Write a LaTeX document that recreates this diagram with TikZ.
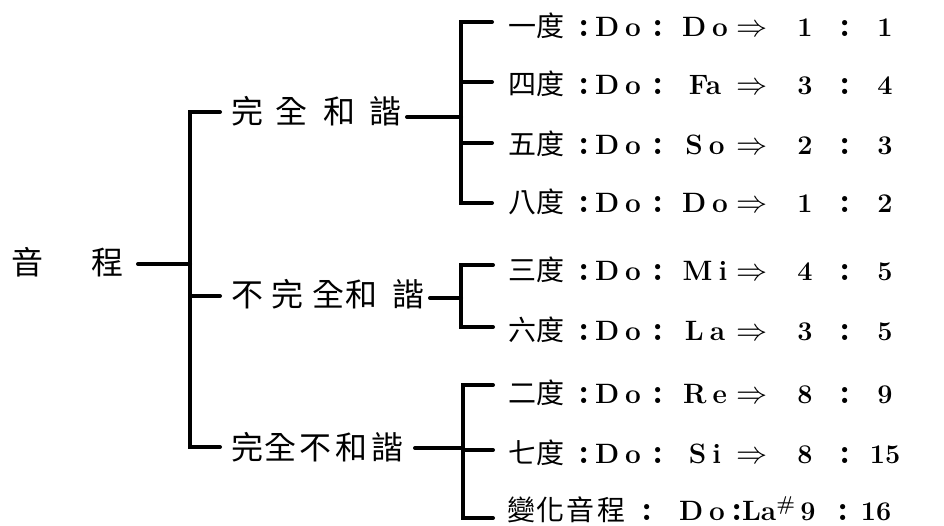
\documentclass[tikz,border=0pt]{standalone}
\usepackage{graphicx}
\usepackage{fontspec}
\newfontfamily\cjk{Noto Sans CJK TC}
\tikzset{
  txt/.style={inner sep=0pt, outer sep=0pt},
  big/.style={txt, font=\fontsize{32}{36}\selectfont\cjk},
  cj/.style={txt, font=\fontsize{28}{30}\selectfont\cjk},
  lt/.style={txt, font=\fontsize{28}{30}\selectfont\bfseries},
  col/.style={txt, font=\fontsize{36}{38}\selectfont\bfseries},
  num/.style={txt, font=\fontsize{27}{30}\selectfont\bfseries},
  ar/.style={txt, font=\Huge},
  br/.style={line width=4pt, line cap=round, line join=miter},
}
\newcommand\arr{\scalebox{1.25}{$\Rightarrow$}}
\newcommand\introw[6]{%
  \node[cj, anchor=base west] (#1l) at (508,#2) {#3};
  \node[col, anchor=base] (#1c1) at (584,#2) {:};
  \node[lt, anchor=base] (#1a) at (618,#2) {D\kern6pt o};
  \node[col, anchor=base] (#1c2) at (658,#2) {:};
  \node[lt, anchor=base] (#1b) at (705,#2) {#4};
  \node[ar, anchor=base] (#1r) at (752,#2) {\arr};
  \node[num, anchor=base] (#1n) at (805,#2) {#5};
  \node[col, anchor=base] (#1c3) at (845,#2) {:};
  \node[num, anchor=base] (#1m) at (885,#2) {#6};
}
\begin{document}
\begin{tikzpicture}[x=1pt,y=-1pt]
\useasboundingbox (0,0) rectangle (944,526);
% level 0 and 1 texts
\node[big, anchor=base west] (root) at (11,275) {音\hspace{48pt}程};
\node[big, anchor=base west] (p1) at (231,124) {完\hspace{13pt}全\hspace{15pt}和\hspace{15pt}諧};
\node[big, anchor=base west] (p2) at (231,307) {不\hspace{8pt}完\hspace{10pt}全\hspace{1pt}和\hspace{15pt}諧};
\node[big, anchor=base west] (p3) at (231,459) {完\hspace{2pt}全\hspace{3pt}不\hspace{3pt}和\hspace{4pt}諧};
% main bracket
\coordinate (rs) at (138,264);
\coordinate (rv) at (190,264);
\coordinate (t1) at (190,112); \coordinate (e1) at (220,112);
\coordinate (t2) at (190,296); \coordinate (e2) at (220,296);
\coordinate (t3) at (190,447); \coordinate (e3) at (220,447);
\draw[br] (rs) -- (rv);
\draw[br, line cap=butt] (e1) -- (t1) -- (t3) -- (e3);
\draw[br] (t2) -- (e2);
\draw[br] (e1) -- +(-1,0);
\draw[br] (e3) -- +(-1,0);
% sub bracket 1
\coordinate (s1a) at (407,117); \coordinate (s1b) at (461,117);
\coordinate (a1) at (461,22);  \coordinate (b1) at (492,22);
\coordinate (a2) at (461,82);  \coordinate (b2) at (492,82);
\coordinate (a3) at (461,143); \coordinate (b3) at (492,143);
\coordinate (a4) at (461,203); \coordinate (b4) at (492,203);
\draw[br] (s1a) -- (s1b);
\draw[br, line cap=butt] (b1) -- (a1) -- (a4) -- (b4);
\draw[br] (a2) -- (b2);
\draw[br] (a3) -- (b3);
\draw[br] (b1) -- +(-1,0);
\draw[br] (b4) -- +(-1,0);
% sub bracket 2
\coordinate (s2a) at (430,298); \coordinate (s2b) at (461,298);
\coordinate (a5) at (461,265); \coordinate (b5) at (493,265);
\coordinate (a6) at (461,327); \coordinate (b6) at (493,327);
\draw[br] (s2a) -- (s2b);
\draw[br, line cap=butt] (b5) -- (a5) -- (a6) -- (b6);
\draw[br] (b5) -- +(-1,0);
\draw[br] (b6) -- +(-1,0);
% sub bracket 3
\coordinate (s3a) at (415,448); \coordinate (s3b) at (463,448);
\coordinate (a7) at (463,385); \coordinate (b7) at (493,385);
\coordinate (a8) at (463,450); \coordinate (b8) at (493,450);
\coordinate (a9) at (463,518); \coordinate (b9) at (493,518);
\draw[br] (s3a) -- (s3b);
\draw[br, line cap=butt] (b7) -- (a7) -- (a9) -- (b9);
\draw[br] (a8) -- (b8);
\draw[br] (b7) -- +(-1,0);
\draw[br] (b9) -- +(-1,0);
% rows
\introw{r1}{37}{一度}{D\kern6pt o}{1}{1}
\introw{r2}{95}{四度}{Fa}{3}{4}
\introw{r3}{155}{五度}{S\kern6pt o}{2}{3}
\introw{r4}{213}{八度}{D\kern6pt o}{1}{2}
\introw{r5}{280}{三度}{M\kern6pt i}{4}{5}
\introw{r6}{340}{六度}{L\kern6pt a}{3}{5}
\introw{r7}{403}{二度}{R\kern6pt e}{8}{9}
\introw{r8}{463}{七度}{S\kern6pt i}{8}{15}
% last row
\node[cj, anchor=base west] (r9l) at (507,520) {變\hspace{2pt}化\hspace{2pt}音\hspace{2pt}程};
\node[col, anchor=base] (r9c1) at (647,520) {:};
\node[lt, anchor=base] (r9a) at (702,520) {D\kern6pt o};
\node[col, anchor=base] (r9c2) at (737,520) {:};
\node[lt, anchor=base west] (r9b) at (742,520) {La\raisebox{10pt}{\fontsize{20}{20}\selectfont\#}};
\node[num, anchor=base] (r9n) at (808,520) {9};
\node[col, anchor=base] (r9c3) at (843,520) {:};
\node[num, anchor=base] (r9m) at (876,520) {16};
\end{tikzpicture}
\end{document}
